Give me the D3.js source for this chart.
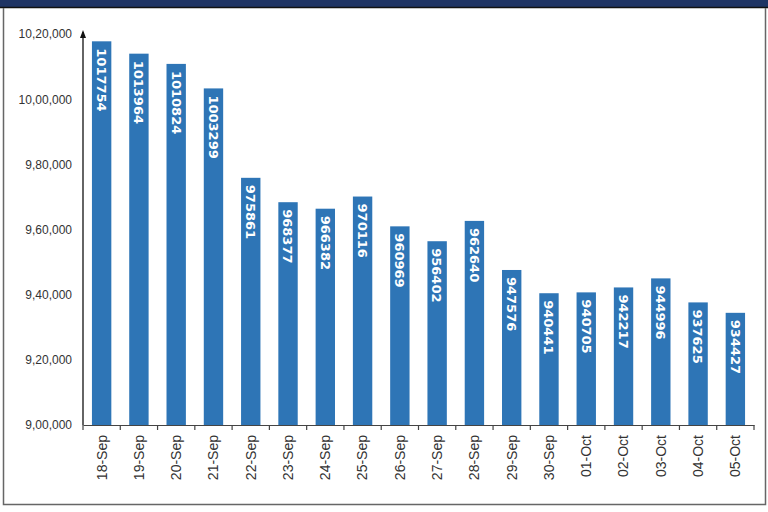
<!DOCTYPE html>
<html><head><meta charset="utf-8">
<script src="https://cdn.jsdelivr.net/npm/d3@7"></script>
<style>body{margin:0;background:#fff;}svg{display:block;}</style>
</head><body>
<svg id="c" width="768" height="512"></svg>
<script>
const categories = ["18-Sep","19-Sep","20-Sep","21-Sep","22-Sep","23-Sep","24-Sep","25-Sep","26-Sep","27-Sep","28-Sep","29-Sep","30-Sep","01-Oct","02-Oct","03-Oct","04-Oct","05-Oct"];
const values = [1017754,1013964,1010824,1003299,975861,968377,966382,970116,960969,956402,962640,947576,940441,940705,942217,944996,937625,934427];
const yTicks = [900000,920000,940000,960000,980000,1000000,1020000];

(function(){
const svg = d3.select("#c");
// frame
svg.append("rect").attr("x",0).attr("y",0).attr("width",768).attr("height",7).attr("fill","#1f3464");
svg.append("line").attr("x1",0).attr("x2",768).attr("y1",7.5).attr("y2",7.5).attr("stroke","#111").attr("stroke-width",1.5);
svg.append("path").attr("d","M3.5,8 V504.5 H765.5 V8").attr("fill","none").attr("stroke","#666").attr("stroke-width",1.5);

const mL = 83, mR = 754, mT = 34, mB = 425;
const x = d3.scaleBand().domain(categories).range([mL,mR]).paddingInner(0.48).paddingOuter(0.24);
const y = d3.scaleLinear().domain([900000,1020000]).range([mB,mT]);

function indFmt(v){
  const s = String(v);
  const last3 = s.slice(-3);
  let rest = s.slice(0,-3);
  const parts=[];
  while(rest.length>2){parts.unshift(rest.slice(-2)); rest=rest.slice(0,-2);}
  if(rest.length) parts.unshift(rest);
  return parts.join(",")+","+last3;
}

// bars
svg.append("g").selectAll("rect").data(values).join("rect")
  .attr("x",(d,i)=>x(categories[i]))
  .attr("width",x.bandwidth())
  .attr("y",d=>y(d))
  .attr("height",d=>mB-y(d))
  .attr("fill","#2e75b6");

// bar labels
svg.append("g").selectAll("text").data(values).join("text")
  .attr("transform",(d,i)=>`translate(${x(categories[i])+x.bandwidth()/2},${y(d)+7}) rotate(90)`)
  .attr("dy","0.36em")
  .attr("text-anchor","start")
  .attr("fill","#fff")
  .attr("font-family","DejaVu Sans, sans-serif")
  .attr("font-weight","bold")
  .attr("font-size",13)
  .text(d=>d);

// y axis
const ya = svg.append("g").attr("transform",`translate(${mL},0)`)
  .call(d3.axisLeft(y).tickValues(yTicks).tickFormat(indFmt).tickSize(0).tickPadding(11));
ya.select(".domain").remove();
ya.selectAll("text").attr("font-family","Liberation Sans, Arial, sans-serif").attr("font-size",12).attr("fill","#333");
svg.append("line").attr("x1",mL).attr("x2",mL).attr("y1",mB).attr("y2",mT-2).attr("stroke","#111").attr("stroke-width",1.3);
svg.append("path").attr("d",`M${mL-3},${mT+4} L${mL},${mT-4} L${mL+3},${mT+4} Z`).attr("fill","#111");

// x axis
const xa = svg.append("g").attr("transform",`translate(0,${mB})`)
  .call(d3.axisBottom(x).tickSize(0).tickPadding(0));
xa.select(".domain").attr("stroke","#444").attr("stroke-width",1.2);
xa.selectAll("text")
  .attr("font-family","Liberation Sans, Arial, sans-serif").attr("font-size",14).attr("fill","#333")
  .attr("text-anchor","end").attr("transform","translate(0,10) rotate(-90)").attr("dy","0.35em").attr("y",0).attr("x",0);
// category boundary ticks
const step = x.step();
const gap = step*x.paddingInner()/2;
const tickX = categories.map(c=>x(c)-gap).concat([x(categories[categories.length-1])+x.bandwidth()+gap]);
svg.append("g").selectAll("line").data(tickX).join("line")
  .attr("x1",d=>d).attr("x2",d=>d)
  .attr("y1",mB).attr("y2",mB+5).attr("stroke","#444").attr("stroke-width",1.2);
})();
</script>
</body></html>
